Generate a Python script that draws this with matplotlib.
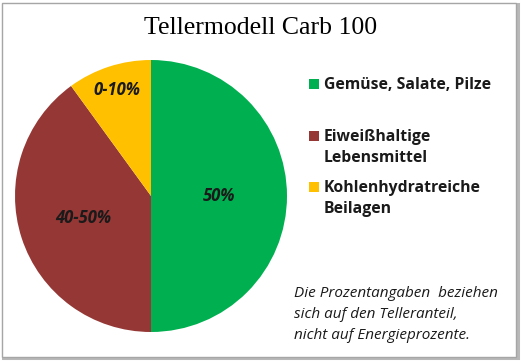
import numpy as np
import matplotlib
matplotlib.use("Agg")
import matplotlib.pyplot as plt
from matplotlib.patches import Rectangle

title = "Tellermodell Carb 100"
categories = ["Gemüse, Salate, Pilze", "Eiweißhaltige\nLebensmittel", "Kohlenhydratreiche\nBeilagen"]
values = [50, 40, 10]
slice_labels = ["50%", "40-50%", "0-10%"]
colors = ["#00B050", "#953735", "#FFC000"]
note = "Die Prozentangaben  beziehen\nsich auf den Telleranteil,\nnicht auf Energieprozente."

W, H = 522, 362
fig = plt.figure(figsize=(W / 100, H / 100), dpi=100)
fig.patch.set_facecolor("white")

# frame with shadow
fig.add_artist(Rectangle((3 / W, 4 / H), 515 / W, 354 / H, transform=fig.transFigure,
                         facecolor="none", edgecolor="#B8B8B8", lw=2.2, zorder=-2))
fig.add_artist(Rectangle((2 / W, 5 / H), 514 / W, 354 / H, transform=fig.transFigure,
                         facecolor="white", edgecolor="#A6A6A6", lw=1.0, zorder=-1))

cx, cy, r = 151, 196, 136
ax = fig.add_axes([(cx - r) / W, (H - cy - r) / H, 2 * r / W, 2 * r / H])
ax.set_zorder(1)
ax.patch.set_alpha(0)
wedges, _ = ax.pie(values, colors=colors, startangle=90, counterclock=False,
                   radius=1.0, wedgeprops=dict(linewidth=0))
ax.set_xlim(-1, 1)
ax.set_ylim(-1, 1)
ax.set_aspect("equal")
ax.axis("off")

dists = [0.5, 0.52, 0.82]
for w, lab, d in zip(wedges, slice_labels, dists):
    ang = np.deg2rad((w.theta1 + w.theta2) / 2)
    ax.text(d * np.cos(ang), d * np.sin(ang), lab, ha="center", va="center",
            fontsize=12, fontweight="bold", fontstyle="italic",
            family=["Open Sans", "DejaVu Sans"], color="#1a1a1a")

fig.text(261 / W, 1 - 28 / H, title, ha="center", va="center",
         fontsize=18.5, family=["Liberation Serif", "DejaVu Serif"], color="black")

legend_y = [84, 136, 187]
for lab, col, y in zip(categories, colors, legend_y):
    fig.add_artist(Rectangle((309 / W, 1 - (y + 5) / H), 10 / W, 10 / H,
                             transform=fig.transFigure, facecolor=col, edgecolor="none"))
    fig.text(324 / W, 1 - (y + 5) / H, lab.split("\n")[0], ha="left", va="baseline",
             fontsize=11.3, fontweight="bold", family=["Open Sans", "DejaVu Sans"],
             color="#1a1a1a")
    for i, extra in enumerate(lab.split("\n")[1:], start=1):
        fig.text(324 / W, 1 - (y + 5 + 21 * i) / H, extra, ha="left", va="baseline",
                 fontsize=11.3, fontweight="bold", family=["Open Sans", "DejaVu Sans"],
                 color="#1a1a1a")

for i, line in enumerate(note.split("\n")):
    fig.text(294 / W, 1 - (297 + 21 * i) / H, line, ha="left", va="baseline",
             fontsize=11, fontstyle="italic", family=["Open Sans", "DejaVu Sans"],
             color="#1a1a1a")

fig.savefig("out.png", dpi=100, facecolor="white")
